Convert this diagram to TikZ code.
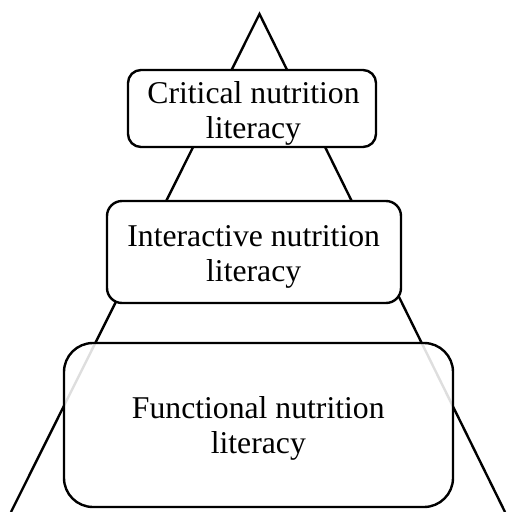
\documentclass[tikz,border=0pt]{standalone}
\usepackage{fontspec}
\setmainfont{Liberation Serif}
\begin{document}
\begin{tikzpicture}[x=1pt,y=-1pt,
  edge/.style={line width=2.4pt,line join=miter},
  tier/.style={draw,line width=2.4pt,fill=white,inner sep=0pt,outer sep=0pt},
  caption/.style={align=center,inner sep=0pt,font=\fontsize{31.7}{35}\selectfont}]
  \useasboundingbox (0,0) rectangle (507,512);
  % pyramid outline
  \coordinate (apex) at (259.5,14);
  \coordinate (baseL) at (11,512);
  \coordinate (baseR) at (505,512);
  \draw[edge] (baseL) -- (apex) -- (baseR);
  % tiers, top to bottom
  \node[tier,rounded corners=13pt,minimum width=248pt,minimum height=77pt] (crit) at (252,108.5) {};
  \node[caption] (critT) at (253.5,113) {Critical nutrition\\literacy};
  \node[tier,rounded corners=15pt,minimum width=294pt,minimum height=102pt] (inter) at (254,252) {};
  \node[caption] (interT) at (253.7,256.8) {Interactive nutrition\\literacy};
  \node[tier,rounded corners=29pt,minimum width=389pt,minimum height=164pt,fill opacity=0.87] (func) at (258.5,425) {};
  \node[caption] (funcT) at (258.3,428.1) {Functional nutrition\\literacy};
\end{tikzpicture}
\end{document}
